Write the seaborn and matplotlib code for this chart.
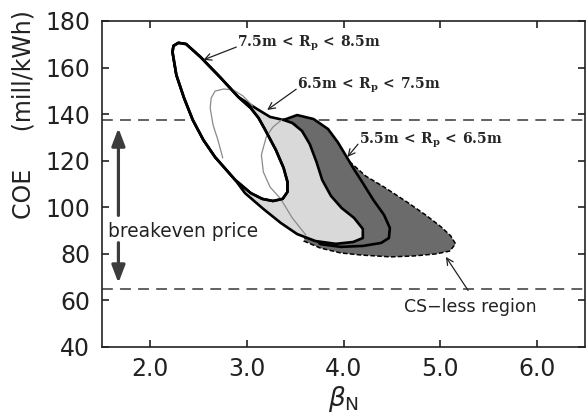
import matplotlib
matplotlib.use("Agg")
import matplotlib.pyplot as plt
import seaborn as sns
import pandas as pd

# ---------------- data ----------------
x_ticks = [2.0, 3.0, 4.0, 5.0, 6.0]
x_tick_labels = ["2.0", "3.0", "4.0", "5.0", "6.0"]
y_ticks = [40, 60, 80, 100, 120, 140, 160, 180]
breakeven_low = 65.0
breakeven_high = 137.5

# 7.5m < Rp < 8.5m (white region)
rp85_beta = [2.24, 2.29, 2.37, 2.52, 2.73, 2.91, 3.04, 3.12, 3.19, 3.30, 3.38, 3.42,
             3.42, 3.37, 3.27, 3.16, 3.04, 2.88, 2.67, 2.55, 2.44, 2.35, 2.27, 2.23]
rp85_coe = [169.3, 170.6, 170.1, 164.5, 155.5, 147.4, 142.6, 138.4, 133.2, 124.6, 116.9, 110.9,
            106.6, 103.6, 102.7, 103.6, 106.1, 111.7, 121.6, 128.9, 137.5, 146.9, 156.8, 166.7]

# 6.5m < Rp < 7.5m (light gray region)
rp75_beta = [2.52, 2.73, 2.91, 3.09, 3.24, 3.38, 3.47, 3.57, 3.65, 3.72, 3.78, 3.87,
             3.98, 4.11, 4.20, 4.20, 4.10, 3.92, 3.71, 3.52, 3.35, 3.17, 2.98, 2.88,
             2.67, 2.55, 2.44, 2.35, 2.27, 2.23, 2.24, 2.29, 2.37]
rp75_coe = [164.5, 155.5, 147.4, 142.6, 138.8, 137.5, 136.2, 132.8, 127.2, 119.5, 111.7, 104.9,
            99.7, 95.4, 90.7, 86.8, 85.1, 84.3, 85.5, 88.5, 93.3, 99.3, 106.1, 111.7,
            121.6, 128.9, 137.5, 146.9, 156.8, 166.7, 169.3, 170.6, 170.1]

# 5.5m < Rp < 6.5m (dark gray region)
rp65_beta = [3.38, 3.52, 3.69, 3.84, 3.94, 4.02, 4.10, 4.20, 4.31, 4.42, 4.48, 4.47,
             4.39, 4.20, 3.97, 3.76, 3.70, 3.66, 3.50]
rp65_coe = [137.5, 139.6, 137.9, 133.6, 128.0, 122.5, 116.9, 110.4, 103.1, 96.7, 91.1, 86.8,
            84.7, 83.4, 83.0, 84.2, 87.0, 103.1, 135.3]

# CS-less region (dashed outline)
csless_beta = [4.06, 4.23, 4.42, 4.67, 4.85, 5.01, 5.11, 5.16, 5.10, 4.96, 4.73, 4.49,
               4.18, 3.97, 3.76, 3.59, 3.66, 3.97]
csless_coe = [119.7, 113.4, 108.7, 101.9, 96.7, 91.6, 87.7, 84.3, 81.2, 80.0, 79.1, 78.7,
              79.5, 80.4, 82.5, 85.5, 94.6, 103.1]

# thin gray contour (two visible pieces)
thin1_beta = [2.75, 2.70, 2.65, 2.62, 2.63, 2.67, 2.76, 2.86, 2.96, 3.06]
thin1_coe = [121.2, 128.9, 135.3, 142.6, 146.9, 149.9, 150.8, 150.4, 147.8, 143.5]
thin2_beta = [3.36, 3.27, 3.20, 3.15, 3.17, 3.24, 3.35, 3.47, 3.61]
thin2_coe = [137.5, 134.5, 130.2, 122.5, 115.2, 108.7, 103.6, 95.4, 88.1]

labels = [r"7.5m\:<\:R_p\:<\:8.5m", r"6.5m\:<\:R_p\:<\:7.5m", r"5.5m\:<\:R_p\:<\:6.5m"]
label_beta = [2.90, 3.52, 4.16]
label_coe = [170.6, 152.5, 128.9]
label_arrow_tip_beta = [2.55, 3.21, 4.04]
label_arrow_tip_coe = [163.3, 141.8, 121.6]

# ---------------- style ----------------
sns.set_theme(style="ticks")
plt.rcParams['font.family'] = ['DejaVu Sans']
plt.rcParams['mathtext.fontset'] = 'dejavusans'

fig = plt.figure(figsize=(5.86, 4.16), dpi=100)
ax = fig.add_axes([102 / 586, 69 / 416, 483 / 586, 326 / 416])


def closed_line(beta, coe, z, color="black", lw=2.0, **kw):
    df = pd.DataFrame({"beta": list(beta) + [beta[0]], "coe": list(coe) + [coe[0]]})
    sns.lineplot(data=df, x="beta", y="coe", sort=False, estimator=None, color=color,
                 lw=lw, zorder=z, ax=ax, solid_joinstyle="round", **kw)


def region(beta, coe, face, z, **kw):
    ax.fill(beta, coe, color=face, lw=0, zorder=z)
    closed_line(beta, coe, z + 0.1, **kw)


# breakeven dashed lines
for yv in (breakeven_low, breakeven_high):
    ax.axhline(yv, color="#555555", lw=1.3, dashes=(6, 4), zorder=1)

region(csless_beta, csless_coe, "#6b6b6b", 2, lw=1.1, linestyle=(0, (3, 1.5)), dash_joinstyle="round")
region(rp65_beta, rp65_coe, "#6b6b6b", 3, lw=1.9)
region(rp75_beta, rp75_coe, "#d9d9d9", 4, lw=1.9)
region(rp85_beta, rp85_coe, "white", 5, lw=1.9)

for tb, tc in ((thin1_beta, thin1_coe), (thin2_beta, thin2_coe)):
    df = pd.DataFrame({"beta": tb, "coe": tc})
    sns.lineplot(data=df, x="beta", y="coe", sort=False, estimator=None,
                 color="#8a8a8a", lw=0.9, zorder=5.5, ax=ax)
closed_line(rp85_beta, rp85_coe, 6, lw=1.9)

# region labels with arrows
for txt, bx, cy, tx, ty in zip(labels, label_beta, label_coe,
                               label_arrow_tip_beta, label_arrow_tip_coe):
    ax.text(bx, cy, r"$\mathbf{" + txt + "}$",
            math_fontfamily="dejavuserif", fontsize=10, ha="left", va="center", zorder=8)
    ax.annotate("", xy=(tx, ty), xytext=(bx - 0.01, cy - 1.8),
                arrowprops=dict(arrowstyle="->", color="#222222", lw=0.9,
                                shrinkA=0, shrinkB=0), zorder=8)

# breakeven price arrows
arrow_kw = dict(arrowstyle="-|>,head_length=1.05,head_width=0.4", color="#3c3c3c",
                lw=2.3, shrinkA=0, shrinkB=0, mutation_scale=10)
ax.annotate("", xy=(1.67, 134.0), xytext=(1.67, 96.5), arrowprops=arrow_kw)
ax.annotate("", xy=(1.67, 67.5), xytext=(1.67, 84.8), arrowprops=arrow_kw)
ax.text(1.56, 89.8, "breakeven price", fontsize=13.4, color="#222222", ha="left", va="center")

# CS-less region label
ax.text(4.63, 57.2, "CS\u2212less region", fontsize=12.5, color="#222222", ha="left", va="center")
ax.annotate("", xy=(5.06, 78.7), xytext=(5.29, 64.3),
            arrowprops=dict(arrowstyle="->", color="#222222", lw=0.9, shrinkA=0, shrinkB=0))

# axes
ax.set_xlim(1.5, 6.5)
ax.set_ylim(40, 180)
ax.set_xticks(x_ticks)
ax.set_xticklabels(x_tick_labels)
ax.set_yticks(y_ticks)
ax.tick_params(axis="both", which="major", direction="in", length=5, width=1.2,
               top=True, right=True, labelsize=17, colors="#222222")
ax.tick_params(axis="y", pad=8.5)
ax.tick_params(axis="x", pad=7)
for s in ax.spines.values():
    s.set_visible(True)
    s.set_linewidth(1.2)
    s.set_color("#222222")

ax.set_xlabel(r"$\beta_\mathregular{N}$", fontsize=19, color="#222222", va="top")
ax.xaxis.set_label_coords(0.5, -0.115)
ax.set_ylabel("COE     (mill/kWh)", fontsize=17, color="#222222")
ax.yaxis.set_label_coords(-0.137, 0.713)
ax.grid(False)

fig.savefig("out.png", dpi=100, facecolor="white")
